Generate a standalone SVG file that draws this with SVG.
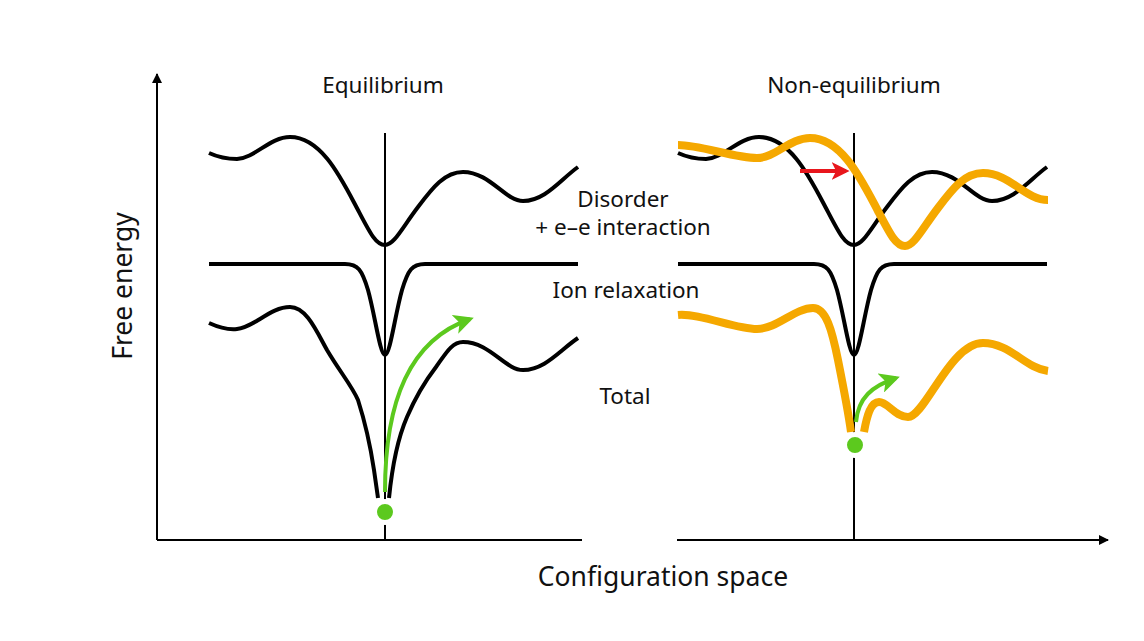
<svg xmlns="http://www.w3.org/2000/svg" width="1144" height="641" viewBox="0 0 1144 641">
<defs>
<style>
.ax{stroke:#000;stroke-width:2;fill:none}
.vl{stroke:#000;stroke-width:2;fill:none}
.cb{stroke:#000;stroke-width:4;fill:none;stroke-linecap:butt;stroke-linejoin:round}
.co{stroke:#F5A800;stroke-width:8;fill:none;stroke-linecap:butt;stroke-linejoin:round}
.ga{stroke:#5CC91E;stroke-width:4;fill:none}
.ra{stroke:#E8161C;stroke-width:4;fill:none}
.ball{fill:#5CC91E;stroke:#fff;stroke-width:5}
.t{font-family:"Noto Sans","Liberation Sans",Arial,sans-serif;font-size:22.5px;fill:#111;text-anchor:middle}
.tl{font-family:"Noto Sans","Liberation Sans",Arial,sans-serif;font-size:26.5px;fill:#111;text-anchor:middle}
</style>
<marker id="ah" viewBox="0 0 10 10" refX="9" refY="5" markerWidth="10" markerHeight="10" markerUnits="userSpaceOnUse" orient="auto"><path d="M0,0 L10,5 L0,10 Z" fill="#000"/></marker>
<marker id="gh" viewBox="0 0 10 10" refX="8" refY="5" markerWidth="5" markerHeight="5" orient="auto"><path d="M0,0 L10,5 L0,10 L2.5,5 Z" fill="#5CC91E"/></marker>
<marker id="rh" viewBox="0 0 10 10" refX="8" refY="5" markerWidth="4.5" markerHeight="4.5" orient="auto"><path d="M0,0 L10,5 L0,10 L2.5,5 Z" fill="#E8161C"/></marker>
</defs>
<rect width="1144" height="641" fill="#fff"/>

<g id="axes">
<path class="ax" d="M157,540 L157,74" marker-end="url(#ah)"/>
<path class="ax" d="M157,540 L582,540"/>
<path class="ax" d="M677,540 L1108,540" marker-end="url(#ah)"/>
</g>

<g id="panel-equilibrium">
<path class="vl" d="M385,133 L385,540"/>
<path id="eq-disorder" class="cb" d="M209,153 C220,158 228,159 237,159 C255,158 270,137 290,137 C322,137 342,180 358,210 C370,233 376,245 385,245 C394,245 402,228 418,207 C433,187 445,172 463,172 C490,172 505,201 523,201 C545,201 560,180 578,167"/>
<path id="eq-ion" class="cb" d="M209,264 L345,264 C358,264 362,270 368,290 C375,315 380,355 385,355 C390,355 395,315 402,290 C408,270 412,264 425,264 L578,264"/>
<path id="eq-total" class="cb" d="M209,323 C220,328 228,330 237,329 C255,327 270,307 290,307 C306,307 316,330 327,350 C340,372 352,386 358,400 C366,425 371,450 374,470 L378,498"/>
<path class="cb" d="M389,498 C392,468 397,440 407,417 C416,396 426,380 436,367 C446,353 452,342 463,342 C490,342 505,370 523,370 C545,370 560,350 578,338"/>
<circle class="ball" cx="385" cy="512" r="10.5"/>
</g>

<g id="panel-nonequilibrium">
<path class="vl" d="M854,133 L854,540"/>
<path id="neq-disorder" class="cb" d="M678,153 C689,158 697,159 706,159 C724,158 739,137 759,137 C791,137 811,180 827,210 C839,233 845,245 854,245 C863,245 871,228 887,207 C902,187 914,172 932,172 C959,172 974,201 992,201 C1014,201 1029,180 1047,167"/>
<path id="neq-ion" class="cb" d="M678,264 L814,264 C827,264 831,270 837,290 C844,315 849,355 854,355 C859,355 864,315 871,290 C877,270 881,264 894,264 L1047,264"/>
<path id="neq-disorder-shifted" class="co" d="M678,145 C700,145 735,158 757,158 C775,158 790,138 810,138 C842,138 862,181 878,211 C890,234 896,246 905,246 C914,246 922,229 938,208 C953,188 965,173 983,173 C1010,173 1025,200 1048,200"/>
<path id="neq-total" class="co" d="M678,315 C700,313 735,329 757,329 C777,329 795,308 813,308 C826,308 832,330 838,360 C843,385 848,410 851,432"/>
<path class="co" d="M864,432 C867,415 871,402 879,402 C888,402 895,417 908,417 C925,417 950,343 983,343 C1010,343 1025,368 1048,371"/>
<circle class="ball" cx="855" cy="445" r="10.5"/>
</g>

<g id="connectors">
<path class="ga" d="M385,492 C385,400 410,340 470,319" marker-end="url(#gh)"/>
<path class="ga" d="M856,422 C858,398 872,386 896,378" marker-end="url(#gh)"/>
<path class="ra" d="M800,171 L846,171" marker-end="url(#rh)"/>
</g>

<g id="labels">
<text class="t" x="383" y="93">Equilibrium</text>
<text class="t" x="854" y="93">Non-equilibrium</text>
<text class="t" x="623" y="207">Disorder</text>
<text class="t" x="623" y="235">+ e–e interaction</text>
<text class="t" x="626" y="298">Ion relaxation</text>
<text class="t" x="625" y="404">Total</text>
<text class="tl" x="663" y="586">Configuration space</text>
<text class="tl" transform="translate(132,286) rotate(-90)" x="0" y="0">Free energy</text>
</g>
</svg>
